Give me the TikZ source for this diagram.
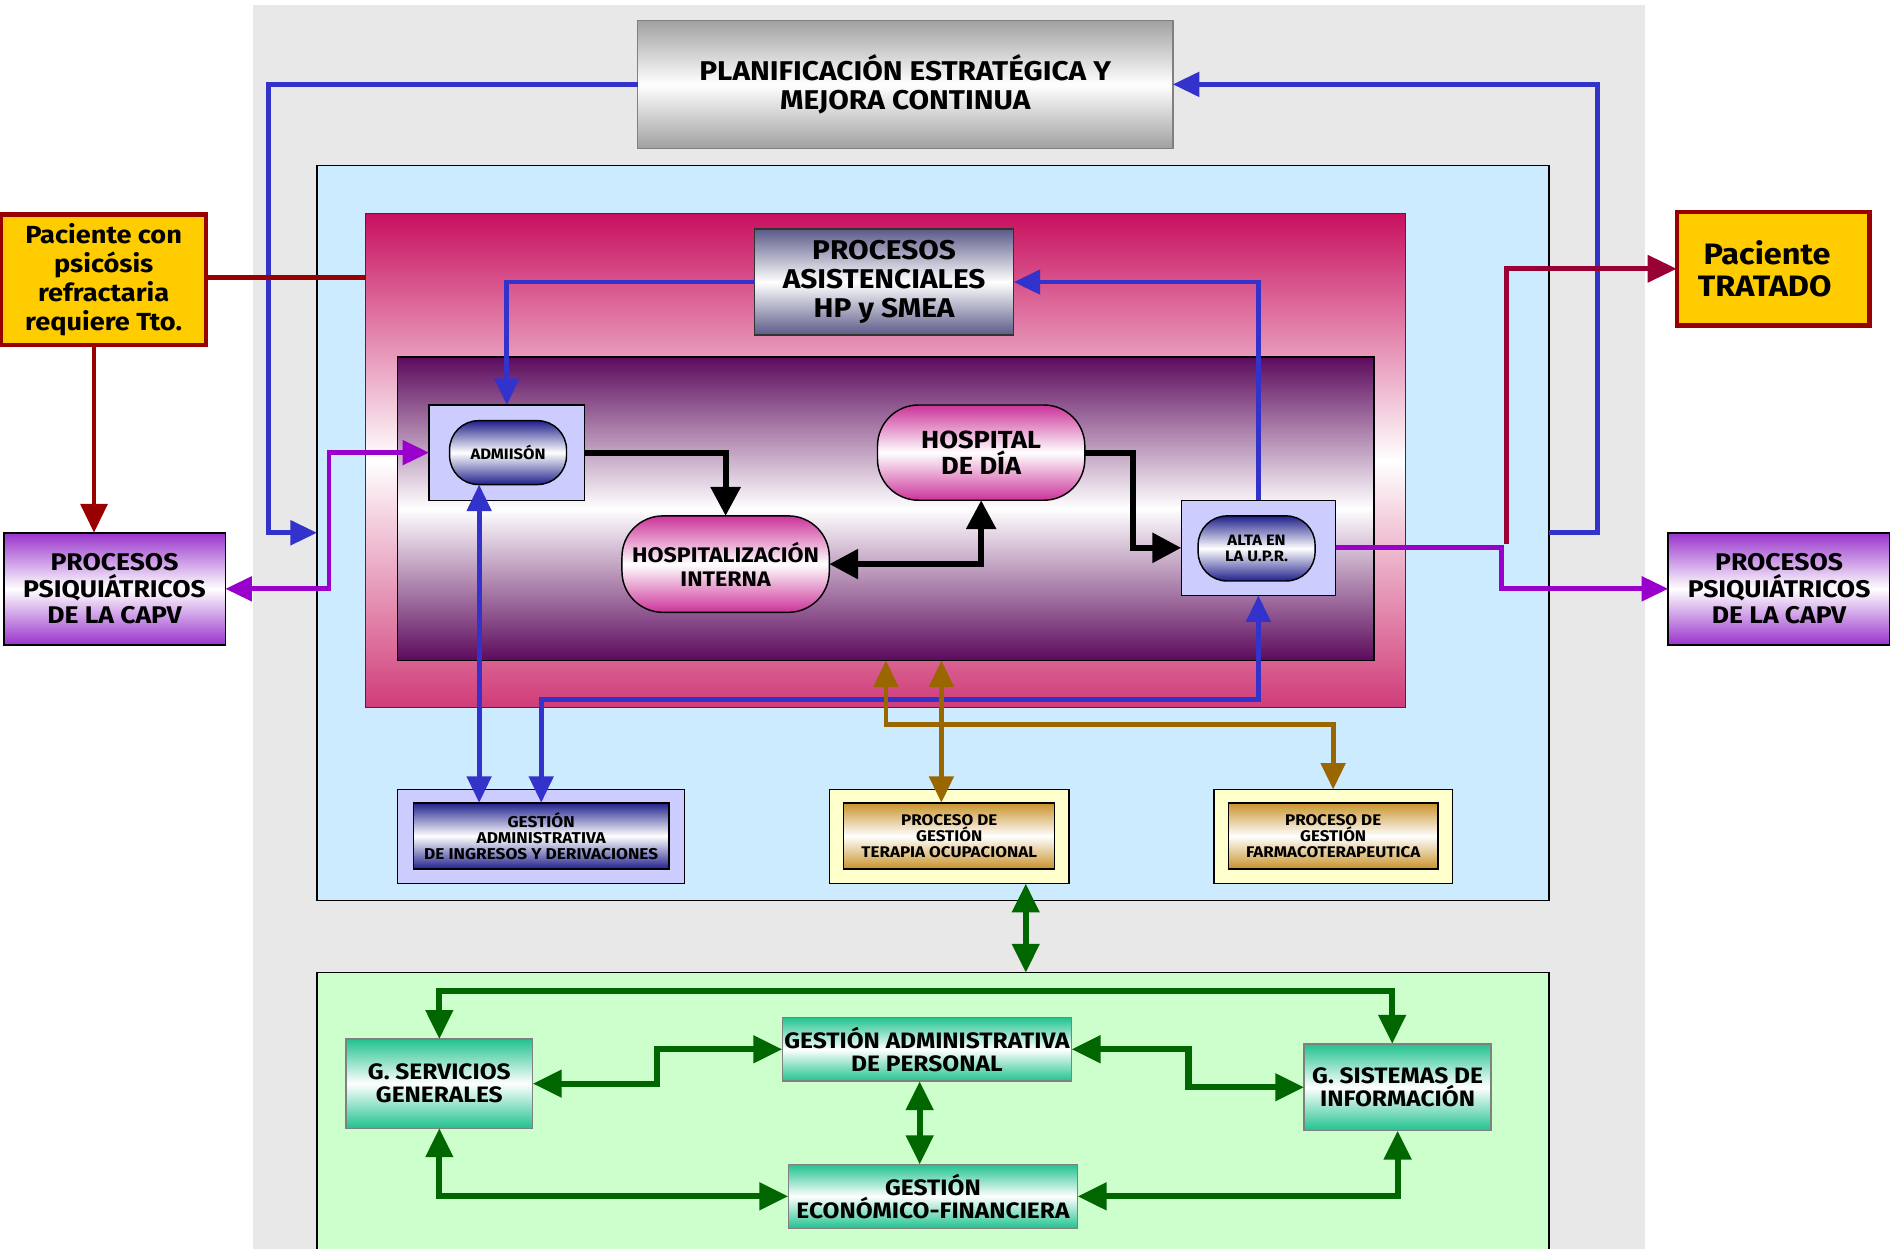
\documentclass[tikz,border=0pt]{standalone}
\usepackage{fontspec}
\setmainfont{Fira Sans}[FakeStretch=1.1]
\usetikzlibrary{arrows.meta,calc,positioning}
\usepackage{xcolor}
\newcommand{\fs}[2]{\fontsize{#1}{#2}\selectfont\bfseries}
\tikzset{
    boxsty/.style={rectangle,inner sep=0pt,outer sep=0pt,align=center,text=black},
    areasty/.style={boxsty,draw=black,line width=1pt},
    shsty/.style={boxsty,top color=#1,bottom color=#1,middle color=white},
    pillsty/.style={shsty=#1,draw=black,line width=1.2pt,rounded corners=24},
    framesty/.style={boxsty,draw=black,line width=1.2pt,fill=#1},
    gdsty/.style={shsty=greenbox,draw=gray,line width=1.2pt,font=\fs{18.5}{19}},
    pacsty/.style={boxsty,fill=gold,draw=blood,line width=3.5pt},
    bluesty/.style={linkblue,line width=4pt,>={Triangle[length=22pt,width=20pt]}},
    violetsty/.style={linkviolet,line width=4pt,>={Triangle[length=22pt,width=20pt]}},
    brownsty/.style={linkbrown,line width=4pt,>={Triangle[length=22pt,width=20pt]}},
    blacksty/.style={black,line width=5pt,>={Triangle[length=24pt,width=24pt]}},
    greensty/.style={linkgreen,line width=5pt,>={Triangle[length=24pt,width=22pt]}},
    redsty/.style={#1,line width=4pt,>={Triangle[length=24pt,width=22pt]}},
}
\definecolor{bgray}{HTML}{E8E8E8}
\definecolor{skyb}{HTML}{CCEBFE}
\definecolor{mint}{HTML}{CCFFCC}
\definecolor{lilac}{HTML}{CCCCFF}
\definecolor{cream}{HTML}{FFFFCC}
\definecolor{gold}{HTML}{FFCC00}
\definecolor{blood}{HTML}{990000}
\definecolor{wine}{HTML}{990033}
\definecolor{rosetop}{HTML}{C8105E}
\definecolor{rosebot}{HTML}{D03C78}
\definecolor{plum}{HTML}{5C0A5C}
\definecolor{slate}{HTML}{5A5A88}
\definecolor{navybox}{HTML}{20208C}
\definecolor{orchid}{HTML}{CC3399}
\definecolor{ochre}{HTML}{C8922A}
\definecolor{violetbox}{HTML}{9933CC}
\definecolor{greenbox}{HTML}{20C28E}
\definecolor{linkblue}{HTML}{3333CC}
\definecolor{linkviolet}{HTML}{9900CC}
\definecolor{linkbrown}{HTML}{996600}
\definecolor{linkgreen}{HTML}{006600}

\begin{document}
\begin{tikzpicture}[x=1pt,y=-1pt]
\useasboundingbox (0,0) rectangle (1568,1036);
\node[boxsty,fill=bgray,minimum width=1155,minimum height=1036] (frame) at (787.5,522) {};

\node[shsty=black!37,draw=gray,line width=1.2pt,minimum width=444,minimum height=106,font=\fs{22.5}{24}] (plan) at (751,70)
  {PLANIFICACIÓN ESTRATÉGICA Y\\MEJORA CONTINUA};
\node[areasty,fill=skyb,minimum width=1022,minimum height=610] (asis) at (774,442) {};
\node[boxsty,top color=rosetop,bottom color=rosebot,middle color=white,draw=black!80,line width=1.2pt,
  minimum width=863,minimum height=410] (hpsmea) at (734.5,382) {};
\node[shsty=plum,draw=black,line width=1.2pt,minimum width=810,minimum height=252] (core) at (735,422) {};
\node[shsty=slate,draw=black!80,line width=1.2pt,minimum width=215,minimum height=88,font=\fs{22.5}{24}] (pasis) at (733.5,234)
  {PROCESOS\\ASISTENCIALES\\HP y SMEA};

\node[framesty=lilac,minimum width=129,minimum height=79] (adm) at (420.5,375.5) {};
\node[pillsty=navybox,minimum width=97,minimum height=53,font=\fs{12.5}{13}] (admin) at (421.5,375.5) {ADMIISÓN};
\node[pillsty=orchid,rounded corners=34,minimum width=172,minimum height=80,font=\fs{17.5}{20}] (hosp) at (602,468)
  {HOSPITALIZACIÓN\\INTERNA};
\node[pillsty=orchid,rounded corners=34,minimum width=172,minimum height=79,font=\fs{20.5}{22}] (hdia) at (814,375.5)
  {HOSPITAL\\DE DÍA};
\node[framesty=lilac,minimum width=128,minimum height=79] (alta) at (1044,454.5) {};
\node[pillsty=navybox,minimum width=97,minimum height=54,font=\fs{12.5}{14}] (altain) at (1042.5,455) {ALTA EN\\LA U.P.R.};

\node[pacsty,minimum width=170,minimum height=108,font=\fs{20.5}{24}] (pacin) at (86,232)
  {Paciente con\\psicósis\\refractaria\\requiere Tto.};
\node[shsty=violetbox,draw=black,line width=1.5pt,minimum width=184,minimum height=93,font=\fs{20}{22}] (capvl) at (95,488.5)
  {PROCESOS\\PSIQUIÁTRICOS\\DE LA CAPV};
\node[pacsty,minimum width=160,minimum height=94,font=\fs{24.5}{27}] (pacout) at (1471,223)
  {\hspace*{-10pt}Paciente\\\hspace*{-14pt}TRATADO};
\node[shsty=violetbox,draw=black,line width=1.5pt,minimum width=184,minimum height=93,font=\fs{20}{22}] (capvr) at (1476,488.5)
  {PROCESOS\\PSIQUIÁTRICOS\\DE LA CAPV};

\node[framesty=lilac,minimum width=238,minimum height=78] (ging) at (449,694) {};
\node[shsty=navybox,draw=black,line width=1.2pt,minimum width=212,minimum height=55,font=\fs{13}{13.5}] (gingin) at (449,693.5)
  {GESTIÓN\\ADMINISTRATIVA\\DE INGRESOS Y DERIVACIONES};
\node[framesty=cream,minimum width=199,minimum height=78] (gto) at (787.5,694) {};
\node[shsty=ochre,draw=black,line width=1.2pt,minimum width=175,minimum height=55,font=\fs{12.8}{13.5}] (gtoin) at (787.5,693.5)
  {PROCESO DE\\GESTIÓN\\TERAPIA OCUPACIONAL};
\node[framesty=cream,minimum width=198,minimum height=78] (gfar) at (1106,694) {};
\node[shsty=ochre,draw=black,line width=1.2pt,minimum width=174,minimum height=55,font=\fs{12.8}{13.5}] (gfarin) at (1106,693.5)
  {PROCESO DE\\GESTIÓN\\FARMACOTERAPEUTICA};

\node[areasty,fill=mint,minimum width=1022,minimum height=235,anchor=north] (apoyo) at (774,807) {};
\node[gdsty,minimum width=155,minimum height=74] (gsg) at (364.5,899) {G. SERVICIOS\\GENERALES};
\node[gdsty,minimum width=240,minimum height=53] (gper) at (769,870.5) {GESTIÓN ADMINISTRATIVA\\DE PERSONAL};
\node[gdsty,minimum width=155,minimum height=72] (gsi) at (1159.5,902) {G. SISTEMAS DE\\INFORMACIÓN};
\node[gdsty,minimum width=240,minimum height=53] (gef) at (774,992.5) {GESTIÓN\\ECONÓMICO-FINANCIERA};

\draw[bluesty,->] (plan.west) -| ($(asis.west)+(-40,0)$) -- (asis.west);
\draw[bluesty,->] (asis.east) -- ++(40,0) |- (plan.east);
\draw[bluesty,->] (pasis.west) -| (adm.north);
\draw[bluesty,->] (alta.north) |- (pasis.east);
\draw[bluesty,<->] ([xshift=-24pt]admin.south) -- ([xshift=-24pt]admin.south |- gingin.north);
\draw[bluesty,<->] (alta.south) -- ++(0,86) -| (gingin.north);

\draw[brownsty,<->] ([xshift=46pt]core.south) -- ([xshift=46pt]core.south |- gtoin.north);
\draw[brownsty,<->] (core.south) -- ++(0,53) -| (gfar.north);

\draw[blacksty,->] (adm.east) -| (hosp.north);
\draw[blacksty,<->] (hosp.east) -| (hdia.south);
\draw[blacksty,->] (hdia.east) -- ++(40,0) |- (alta.west);

\draw[violetsty,<->] (adm.west) -- ++(-83,0) |- (capvl.east);
\draw[redsty=wine,->] ([xshift=142pt,yshift=3pt]alta.east) |- (pacout.west);
\draw[violetsty,->] (alta.east) -- ++(138,0) |- (capvr.west);

\draw[redsty=blood] ([yshift=2pt]pacin.east) -- ([yshift=2pt]pacin.east -| hpsmea.west);
\draw[redsty=blood,->] ([xshift=-8pt]pacin.south) -- ([xshift=-8pt]pacin.south |- capvl.north);

\draw[greensty,<->] ([xshift=63.5pt]gto.south) -- ([xshift=63.5pt]gto.south |- apoyo.north);
\draw[greensty,<->] (gsg.north) -- ++(0,-40) -| ([xshift=-4.5pt]gsi.north);
\draw[greensty,<->] (gsg.east) -- ++(103,0) |- (gper.west);
\draw[greensty,<->] (gper.east) -- ++(97,0) |- (gsi.west);
\draw[greensty,<->] ([xshift=-6pt]gper.south) -- ([xshift=-6pt]gper.south |- gef.north);
\draw[greensty,<->] (gsg.south) |- (gef.west);
\draw[greensty,<->] (gsi.south) |- (gef.east);
\end{tikzpicture}
\end{document}
